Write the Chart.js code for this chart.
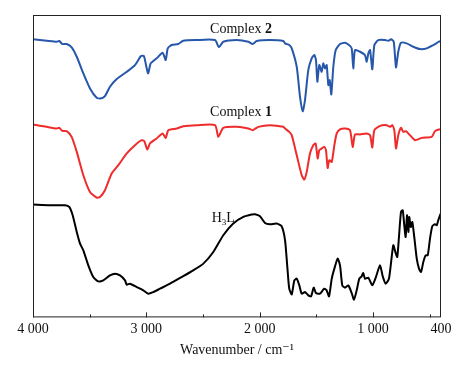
<!DOCTYPE html>
<html>
<head>
<meta charset="utf-8">
<script src="https://cdn.jsdelivr.net/npm/chart.js@4/dist/chart.umd.min.js"></script>
<style>
  html, body { margin: 0; padding: 0; background: #fff; }
  #wrap { width: 462px; height: 367px; }
</style>
</head>
<body>
<div id="wrap"><canvas id="ir"></canvas></div>
<script>
// IR spectra, wavenumber (cm-1) vs. offset transmittance (a.u.)
const complex2Wn = [4000, 3879, 3791, 3768, 3741, 3703, 3659, 3614, 3556, 3497, 3438, 3403, 3365, 3321, 3261, 3173, 3100, 3047, 3021, 2985, 2961, 2909, 2856, 2829, 2811, 2776, 2718, 2674, 2556, 2394, 2359, 2321, 2203, 2100, 2061, 2026, 1909, 1791, 1776, 1739, 1717, 1673, 1644, 1620, 1600, 1571, 1541, 1518, 1503, 1491, 1474, 1453, 1439, 1424, 1409, 1394, 1382, 1368, 1350, 1329, 1291, 1247, 1212, 1188, 1174, 1159, 1115, 1071, 1056, 1041, 1026, 1006, 988, 953, 894, 865, 841, 817, 797, 777, 753, 703, 644, 585, 526, 468, 418, 400];
const complex2T = [277.7, 276.3, 275.3, 276, 273, 273, 269.7, 260.3, 243.7, 228.7, 219.3, 218.7, 221, 230.3, 238, 245.3, 252, 261, 261, 243.7, 253.7, 258.7, 264.3, 257, 268.7, 272, 273, 276.3, 277, 277, 269.7, 275.3, 277, 275.3, 273, 276, 277, 276, 273.7, 272, 268.7, 250.3, 220.3, 206, 217, 247, 258.7, 262, 257, 235.3, 252, 245.3, 253.7, 248.7, 252, 232, 237, 222.7, 250.3, 267, 273, 274.3, 272, 268.7, 248.7, 267, 265.3, 262, 255.3, 263.7, 267, 247.7, 272, 277, 277, 276.3, 277.7, 275.3, 249.7, 265.3, 274.3, 273.7, 270.3, 268, 268.7, 272, 275.3, 276];

const complex1Wn = [4000, 3879, 3791, 3768, 3741, 3703, 3659, 3614, 3556, 3497, 3438, 3409, 3365, 3306, 3247, 3173, 3100, 3041, 3018, 2991, 2968, 2909, 2856, 2829, 2806, 2732, 2674, 2556, 2394, 2365, 2321, 2203, 2100, 2061, 2012, 1909, 1791, 1776, 1739, 1717, 1673, 1629, 1606, 1585, 1556, 1527, 1506, 1488, 1474, 1453, 1430, 1415, 1400, 1386, 1364, 1341, 1320, 1291, 1247, 1203, 1179, 1159, 1115, 1056, 1026, 1006, 988, 938, 879, 850, 830, 812, 797, 777, 753, 733, 709, 674, 629, 570, 482, 453, 418, 400];
const complex1T = [192.7, 190.3, 188.7, 189.3, 186.3, 186, 180.3, 165.3, 142, 125.3, 119.7, 120.3, 127, 143.7, 152, 163.7, 172, 177, 176, 167.7, 173.7, 178.7, 183.7, 179.3, 187, 188.7, 191, 192, 192, 180.3, 189.3, 190.3, 188.7, 187, 190.3, 192, 190.3, 188.7, 185.3, 182, 162, 142, 137.7, 145.3, 163.7, 172, 173.7, 158.7, 167, 168.7, 170.3, 167, 149.3, 157, 155.3, 172, 183.7, 187.7, 188.7, 187, 170.3, 182.7, 182.7, 183.7, 182, 169.7, 187, 191.3, 192, 190.3, 192, 187, 168.7, 182, 189.3, 185.3, 186, 182, 177, 179.3, 180.3, 186, 187.7, 188];

const ligandWn = [4000, 3850, 3718, 3680, 3650, 3614, 3585, 3556, 3512, 3468, 3424, 3380, 3321, 3276, 3232, 3188, 3173, 3144, 3085, 3027, 2983, 2939, 2879, 2791, 2688, 2586, 2497, 2409, 2321, 2233, 2144, 2070, 2041, 1997, 1953, 1909, 1850, 1806, 1776, 1756, 1739, 1717, 1694, 1673, 1650, 1629, 1600, 1571, 1547, 1523, 1503, 1468, 1430, 1409, 1388, 1364, 1341, 1312, 1291, 1271, 1247, 1218, 1188, 1168, 1144, 1121, 1100, 1086, 1071, 1041, 1006, 976, 938, 914, 888, 859, 821, 800, 786, 771, 753, 738, 724, 712, 700, 688, 680, 667, 653, 636, 614, 594, 576, 556, 535, 517, 497, 477, 453, 438, 424, 409, 400];
const ligandT = [112.7, 112, 112, 110.3, 102, 85.3, 73.7, 67, 52, 40.3, 36, 37, 42, 43.7, 42, 37, 32.7, 33.7, 30.3, 27, 23.7, 25.3, 28.7, 33.7, 40.3, 47, 53.7, 65.3, 82, 93.7, 100.3, 102.7, 103, 101, 94.3, 93, 93.7, 91, 77, 50.3, 28.7, 23, 37, 38.7, 32, 23.7, 25.3, 22, 21, 29.7, 24.3, 23.7, 28.7, 27, 21, 38.7, 48.7, 58.7, 52, 32, 29.7, 32, 24.3, 17.7, 27, 38.7, 41, 44.3, 38.7, 39.7, 32, 39.7, 52, 41, 33.7, 38.7, 72, 64.3, 60.3, 80.3, 105.3, 107, 92, 80.3, 102, 85.3, 100.3, 90.3, 95.3, 80.3, 58.7, 48.7, 45.3, 55.3, 62, 62, 78.7, 91, 93, 92, 97, 102, 104];

const tickValues = [4000, 3500, 3000, 2500, 2000, 1500, 1000, 500, 400];
const tickLabels = {4000: '4 000', 3000: '3 000', 2000: '2 000', 1000: '1 000', 400: '400'};

// curve labels: [prefix, bold part, wavenumber, y]
const curveLabels = [
  ['Complex ', '2', 2165, 284],
  ['Complex ', '1', 2165, 201]
];

const serif = '"Liberation Serif", "DejaVu Serif", serif';

function toPoints(xs, ys) {
  return xs.map((x, i) => ({ x: x, y: ys[i] }));
}

// frame, inward ticks and curve names
const decorations = {
  id: 'decorations',
  afterDraw(chart) {
    const ctx = chart.ctx;
    const area = chart.chartArea;
    const xs = chart.scales.x;
    const ys = chart.scales.y;
    ctx.save();
    ctx.strokeStyle = '#222';
    ctx.lineWidth = 1;
    ctx.strokeRect(area.left + 0.5, area.top + 0.5, area.right - area.left - 1, area.bottom - area.top - 1);

    ctx.beginPath();
    tickValues.forEach(v => {
      if (v === 400) return;
      const px = Math.round(xs.getPixelForValue(v)) + 0.5;
      const len = (v % 1000 === 0) ? 5 : 3;
      ctx.moveTo(px, area.bottom);
      ctx.lineTo(px, area.bottom - len);
    });
    ctx.stroke();

    ctx.fillStyle = '#111';
    ctx.textBaseline = 'alphabetic';
    curveLabels.forEach(l => {
      ctx.font = '14px ' + serif;
      const w1 = ctx.measureText(l[0]).width;
      ctx.font = 'bold 14px ' + serif;
      const w2 = ctx.measureText(l[1]).width;
      const cx = xs.getPixelForValue(l[2]);
      const cy = ys.getPixelForValue(l[3]);
      const left = cx - (w1 + w2) / 2;
      ctx.font = '14px ' + serif;
      ctx.fillText(l[0], left, cy);
      ctx.font = 'bold 14px ' + serif;
      ctx.fillText(l[1], left + w1, cy);
    });

    // H3L
    const hx = xs.getPixelForValue(2423);
    const hy = ys.getPixelForValue(95);
    ctx.font = '14px ' + serif;
    ctx.fillText('H', hx, hy);
    let w = ctx.measureText('H').width;
    ctx.font = '9px ' + serif;
    ctx.fillText('3', hx + w, hy + 3);
    w += ctx.measureText('3').width;
    ctx.font = '14px ' + serif;
    ctx.fillText('L', hx + w, hy);
    ctx.restore();
  }
};

const lineStyle = { borderWidth: 2, pointRadius: 0, tension: 0.2, fill: false };

new Chart(document.getElementById('ir'), {
  type: 'line',
  data: {
    datasets: [
      Object.assign({ label: 'Complex 2', data: toPoints(complex2Wn, complex2T), borderColor: '#2657ab' }, lineStyle),
      Object.assign({ label: 'Complex 1', data: toPoints(complex1Wn, complex1T), borderColor: '#ef2b2b' }, lineStyle),
      Object.assign({ label: 'H3L', data: toPoints(ligandWn, ligandT), borderColor: '#000000' }, lineStyle)
    ]
  },
  options: {
    responsive: true,
    maintainAspectRatio: false,
    animation: false,
    layout: { padding: { left: 33, right: 21, top: 15, bottom: 5 } },
    plugins: {
      legend: { display: false },
      tooltip: { enabled: false }
    },
    scales: {
      x: {
        type: 'linear',
        reverse: true,
        min: 400,
        max: 4000,
        afterBuildTicks: (scale) => {
          scale.ticks = tickValues.map(v => ({ value: v }));
        },
        grid: { display: false, drawTicks: false },
        border: { display: false },
        ticks: {
          autoSkip: false,
          maxRotation: 0,
          padding: 4,
          color: '#111',
          font: { family: serif, size: 14 },
          callback: (v) => tickLabels[v] || ''
        },
        title: {
          display: true,
          text: 'Wavenumber / cm\u207B\u00B9',
          color: '#111',
          font: { family: serif, size: 14 },
          padding: { top: 0, bottom: 3 }
        }
      },
      y: {
        display: false,
        min: 0,
        max: 302
      }
    }
  },
  plugins: [decorations]
});
</script>
</body>
</html>
